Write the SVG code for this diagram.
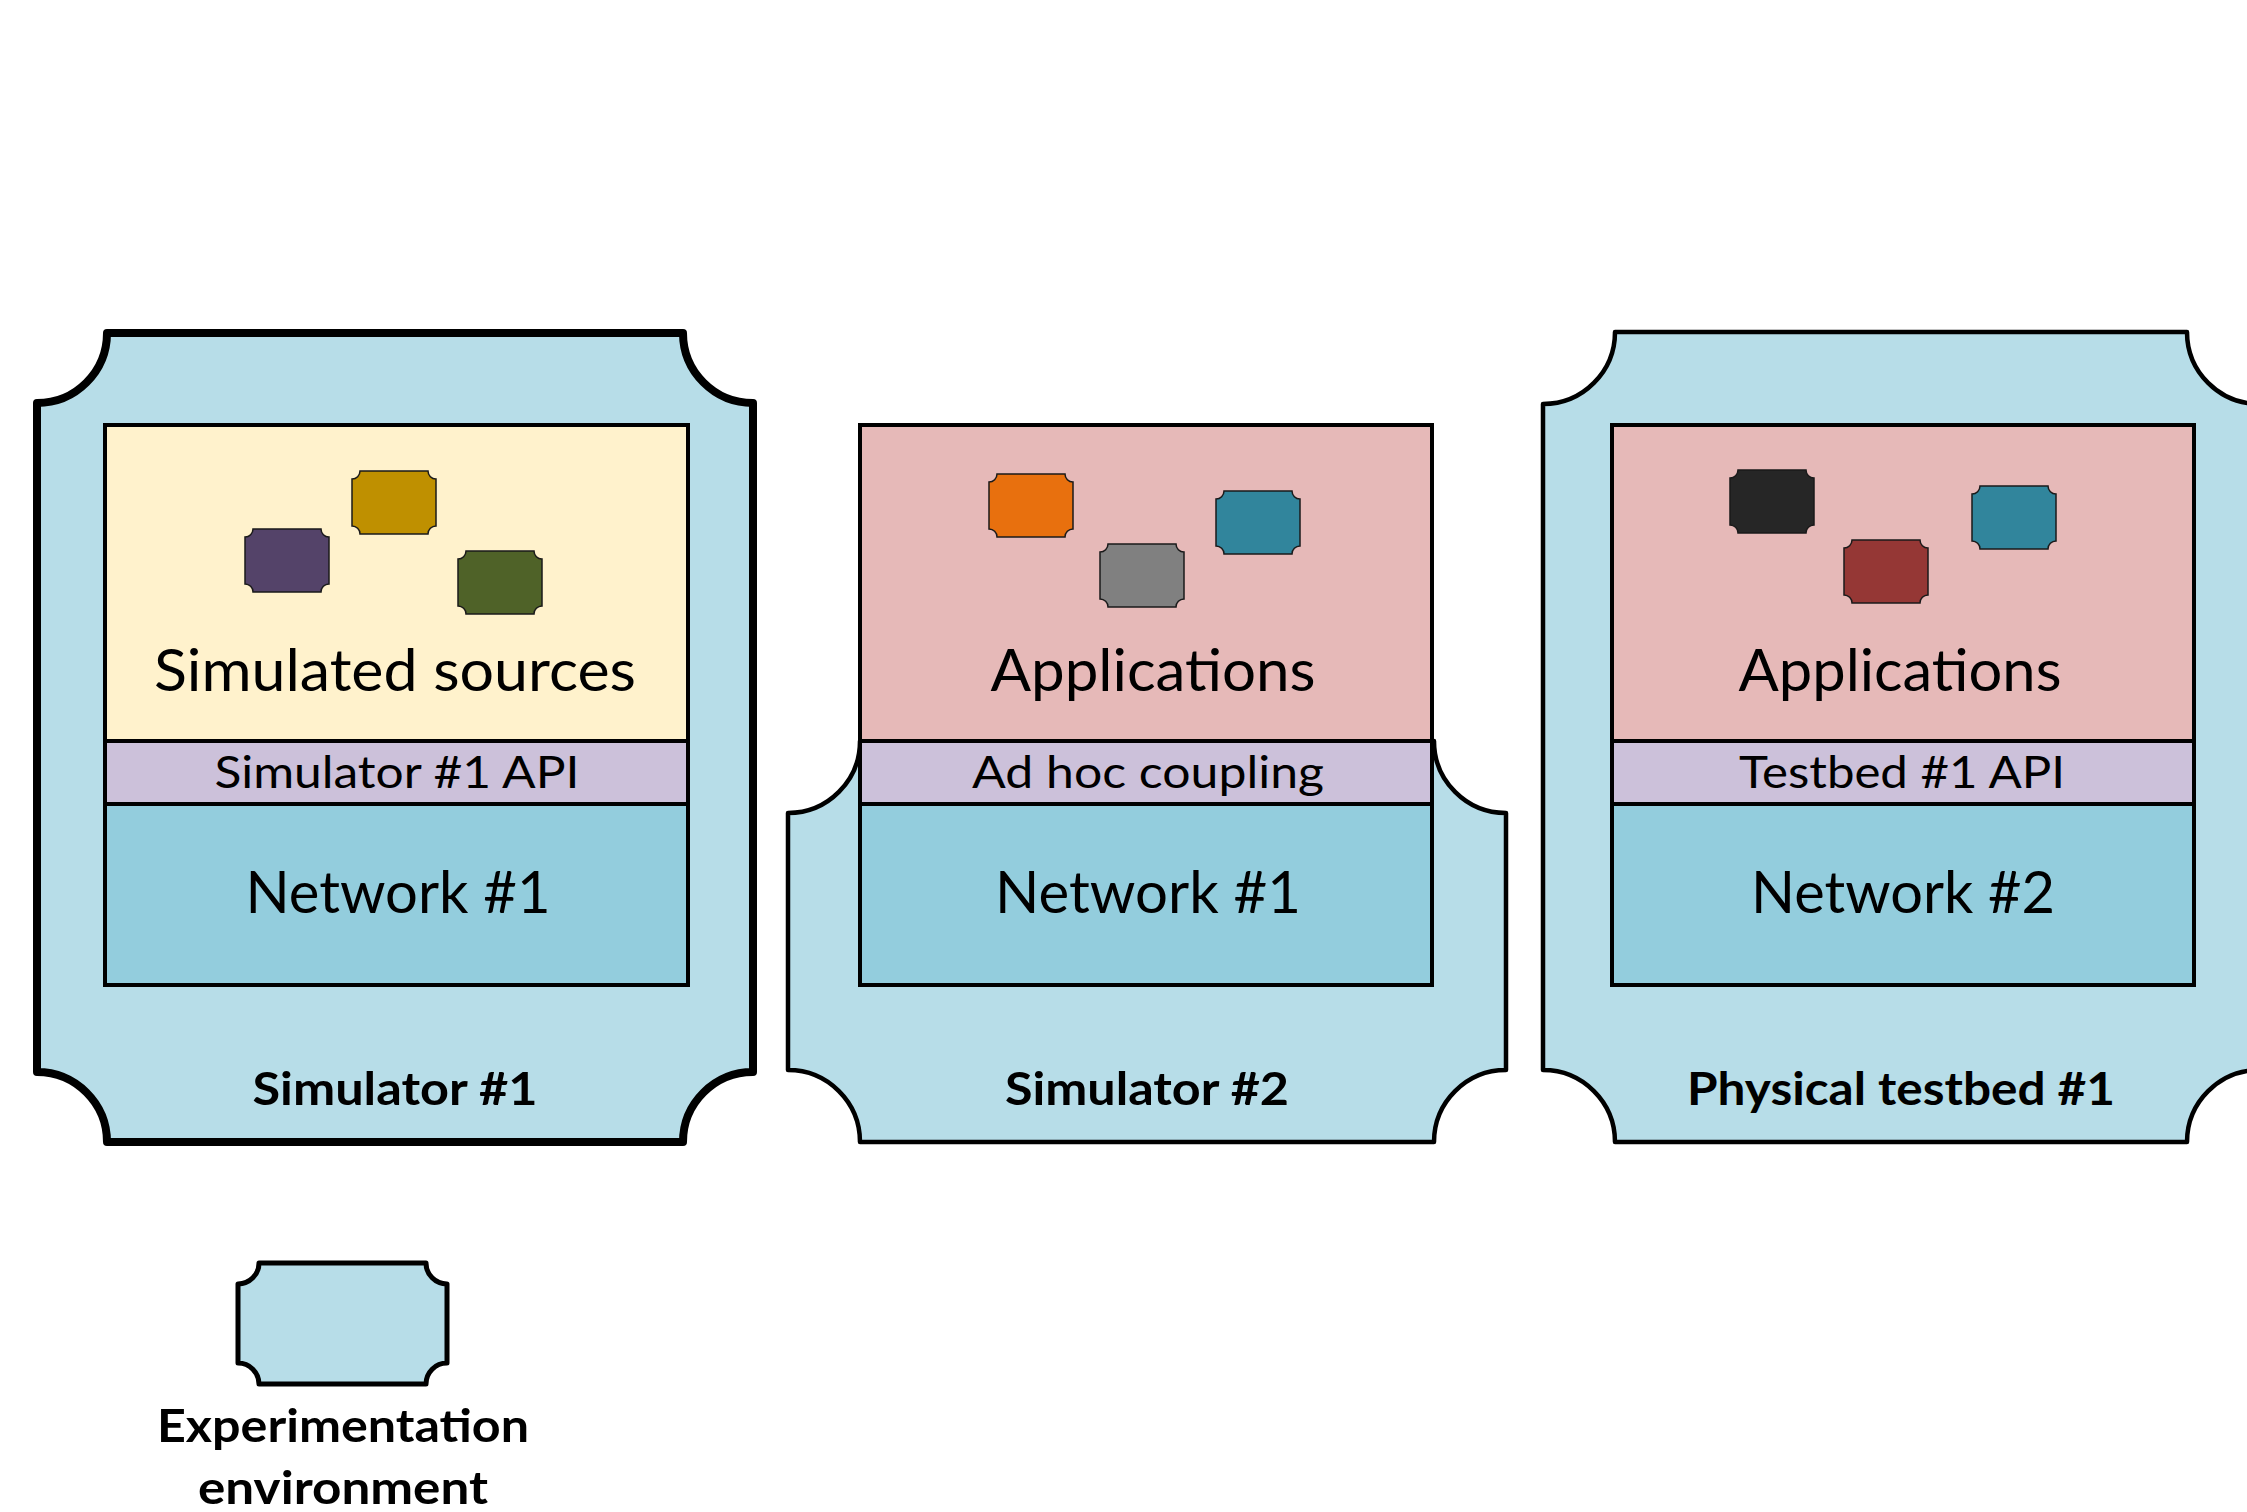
<svg xmlns="http://www.w3.org/2000/svg" xmlns:xlink="http://www.w3.org/1999/xlink" width="2247" height="1512" viewBox="0 0 2247 1512">
<style>
.frame{fill:#B7DDE8;stroke:#000;stroke-linejoin:round}
.thick{stroke-width:8}
.thin{stroke-width:4.5}
.layer{stroke:#000;stroke-width:4}
.src{fill:#FFF2CC}.app{fill:#E6B9B8}.api{fill:#CCC1DA}.net{fill:#93CDDD}
.icon{stroke:#1a1a1a;stroke-width:1.5}
text{font-family:Lato,Carlito,"Open Sans",sans-serif;fill:#000;text-anchor:middle}
.big{font-size:59px}.mid{font-size:45px}.bold{font-size:46px;font-weight:bold}
</style>
<defs>
<path id="ico" d="M8,0 H76 A8 8 0 0 0 84,8 V55 A8 8 0 0 0 76,63 H8 A8 8 0 0 0 0,55 V8 A8 8 0 0 0 8,0 Z"/>
</defs>
<rect x="0" y="0" width="2247" height="1512" fill="#fff"/>
<g id="connectors"/>
<g id="sim1">
<path class="frame thick" d="M107,333 H683 A70 70 0 0 0 753,403 V1072 A70 70 0 0 0 683,1142 H107 A70 70 0 0 0 37,1072 V403 A70 70 0 0 0 107,333 Z"/>
<rect class="layer src" x="105" y="425" width="583" height="316"/>
<rect class="layer api" x="105" y="741" width="583" height="63"/>
<rect class="layer net" x="105" y="804" width="583" height="181"/>
<use xlink:href="#ico" class="icon" fill="#544369" x="245" y="529"/>
<use xlink:href="#ico" class="icon" fill="#BF9000" x="352" y="471"/>
<use xlink:href="#ico" class="icon" fill="#4F6228" x="458" y="551"/>
<text class="big" x="395" y="691" textLength="482" lengthAdjust="spacingAndGlyphs">Simulated sources</text>
<text class="mid" x="397" y="788" textLength="365" lengthAdjust="spacingAndGlyphs">Simulator #1 API</text>
<text class="big" x="398" y="913" textLength="305" lengthAdjust="spacingAndGlyphs">Network #1</text>
<text class="bold" x="395" y="1105" textLength="285" lengthAdjust="spacingAndGlyphs">Simulator #1</text>
</g>
<g id="sim2">
<path class="frame thin" d="M860,741 H1434 A72 72 0 0 0 1506,813 V1070 A72 72 0 0 0 1434,1142 H860 A72 72 0 0 0 788,1070 V813 A72 72 0 0 0 860,741 Z"/>
<rect class="layer app" x="860" y="425" width="572" height="316"/>
<rect class="layer api" x="860" y="741" width="572" height="63"/>
<rect class="layer net" x="860" y="804" width="572" height="181"/>
<use xlink:href="#ico" class="icon" fill="#E8700E" x="989" y="474"/>
<use xlink:href="#ico" class="icon" fill="#808080" x="1100" y="544"/>
<use xlink:href="#ico" class="icon" fill="#31859C" x="1216" y="491"/>
<text class="big" x="1153" y="691" textLength="325" lengthAdjust="spacingAndGlyphs">Applications</text>
<text class="mid" x="1148" y="788" textLength="352" lengthAdjust="spacingAndGlyphs">Ad hoc coupling</text>
<text class="big" x="1148" y="913" textLength="306" lengthAdjust="spacingAndGlyphs">Network #1</text>
<text class="bold" x="1147" y="1105" textLength="284" lengthAdjust="spacingAndGlyphs">Simulator #2</text>
</g>
<g id="testbed1">
<path class="frame thin" d="M1615,332 H2187 A72 72 0 0 0 2259,404 V1070 A72 72 0 0 0 2187,1142 H1615 A72 72 0 0 0 1543,1070 V404 A72 72 0 0 0 1615,332 Z"/>
<rect class="layer app" x="1612" y="425" width="582" height="316"/>
<rect class="layer api" x="1612" y="741" width="582" height="63"/>
<rect class="layer net" x="1612" y="804" width="582" height="181"/>
<use xlink:href="#ico" class="icon" fill="#262626" x="1730" y="470"/>
<use xlink:href="#ico" class="icon" fill="#953735" x="1844" y="540"/>
<use xlink:href="#ico" class="icon" fill="#31859C" x="1972" y="486"/>
<text class="big" x="1900" y="691" textLength="323" lengthAdjust="spacingAndGlyphs">Applications</text>
<text class="mid" x="1902" y="788" textLength="326" lengthAdjust="spacingAndGlyphs">Testbed #1 API</text>
<text class="big" x="1903" y="913" textLength="304" lengthAdjust="spacingAndGlyphs">Network #2</text>
<text class="bold" x="1901" y="1105" textLength="428" lengthAdjust="spacingAndGlyphs">Physical testbed #1</text>
</g>
<g id="legend">
<path class="frame" stroke-width="5" d="M259,1263 H426 A21 21 0 0 0 447,1284 V1363 A21 21 0 0 0 426,1384 H259 A21 21 0 0 0 238,1363 V1284 A21 21 0 0 0 259,1263 Z"/>
<text class="bold" x="343" y="1442" textLength="372" lengthAdjust="spacingAndGlyphs">Experimentation</text>
<text class="bold" x="343" y="1504" textLength="290" lengthAdjust="spacingAndGlyphs">environment</text>
</g>
</svg>
